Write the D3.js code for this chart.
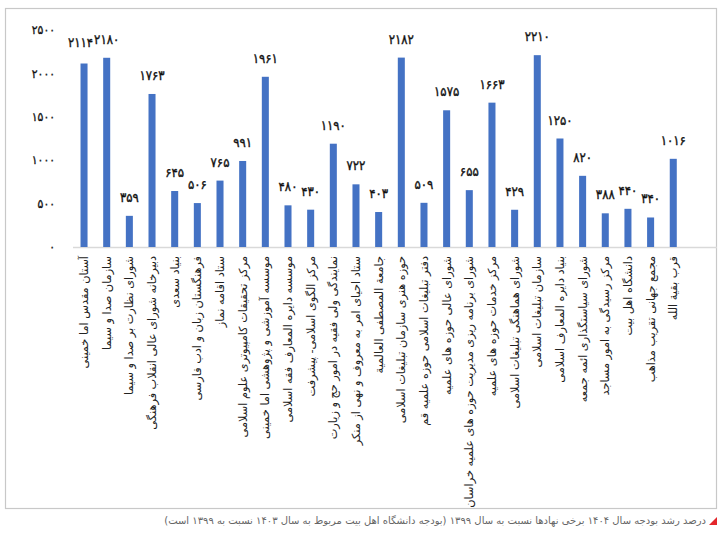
<!DOCTYPE html>
<html><head><meta charset="utf-8">
<script src="https://cdn.jsdelivr.net/npm/d3@7"></script>
<style>body{margin:0;background:#fff;}svg{display:block;}</style>
</head><body>
<script>
const categories = [
"آستان مقدس اما خمینی","سازمان صدا و سیما","شورای نظارت بر صدا و سیما","دبیرخانه شورای عالی انقلاب فرهنگی",
"بنیاد سعدی","فرهنگستان زبان و ادب فارسی","ستاد اقامه نماز","مرکز تحقیقات کامپیوتری علوم اسلامی",
"موسسه آموزشی و پژوهشی اما خمینی","موسسه دایره المعارف فقه اسلامی","مرکز الگوی اسلامی- پیشرفت",
"نمایندگی ولی فقیه در امور حج و زیارت","ستاد احیای امر به معروف و نهی از منکر","جامعة المصطفی العالمیة",
"حوزه هنری سازمان تبلیغات اسلامی","دفتر تبلیغات اسلامی حوزه علمیه قم","شورای عالی حوزه های علمیه",
"شورای برنامه ریزی مدیریت حوزه های علمیه خراسان","مرکز خدمات حوزه های علمیه","شورای هماهنگی تبلیغات اسلامی",
"سازمان تبلیغات اسلامی","بنیاد دایره المعارف اسلامی","شورای سیاستگذاری ائمه جمعه","مرکز رسیدگی به امور مساجد",
"دانشگاه اهل بیت","مجمع جهانی تقریب مذاهب","قرب بقیة الله"];
const values = [2114,2180,359,1763,645,506,765,991,1961,480,430,1190,722,403,2182,509,1575,655,1663,429,2210,1250,820,388,440,340,1016];
const yTicks = [0,500,1000,1500,2000,2500];
const caption = "درصد رشد بودجه سال ۱۴۰۴ برخی نهادها نسبت به سال ۱۳۹۹ (بودجه دانشگاه اهل بیت مربوط به سال ۱۴۰۳ نسبت به ۱۳۹۹ است)";

const fa = n => String(n).replace(/\d/g, d => "۰۱۲۳۴۵۶۷۸۹"[d]);
const W = 727, H = 533;
const svg = d3.select("body").append("svg").attr("width", W).attr("height", H);
const font = "'DejaVu Sans', sans-serif";
const numFont = "'DejaVu Sans Condensed', 'DejaVu Sans', sans-serif";

svg.append("rect").attr("x",5.5).attr("y",8.5).attr("width",711).attr("height",500)
  .attr("fill","none").attr("stroke","#c8c8c8").attr("stroke-width",1.2);

const x = d3.scaleBand().domain(categories).range([72.7, 684.6]).paddingInner(0.69).paddingOuter(0.345);
const y = d3.scaleLinear().domain([0,2500]).range([247, 30]);

svg.append("g").selectAll("text").data(yTicks).join("text")
  .attr("x", 55).attr("y", d => y(d)).attr("dy","0.35em")
  .attr("text-anchor","end").attr("font-family",numFont).attr("font-size",12)
  .attr("fill","#111").attr("stroke","#111").attr("stroke-width",0.3).text(d => fa(d));

svg.append("line").attr("x1",73).attr("x2",717).attr("y1",247.5).attr("y2",247.5)
  .attr("stroke","#d9d9d9").attr("stroke-width",1.5);

svg.append("g").selectAll("rect").data(values).join("rect")
  .attr("x",(d,i)=>x(categories[i])).attr("width",x.bandwidth())
  .attr("y",d=>y(d)).attr("height",d=>y(0)-y(d)).attr("fill","#4472C4");

const labels = svg.append("g").selectAll("text").data(values).join("text")
  .attr("x",(d,i)=>x(categories[i])+x.bandwidth()/2).attr("y",d=>y(d)-14)
  .attr("text-anchor","middle").attr("font-family",numFont).attr("font-size",13)
  .attr("fill","#111").attr("stroke","#111").attr("stroke-width",0.35).text(d=>fa(d));

// simple collision avoidance: shift a label left/up if it overlaps its right neighbour
const nodes = labels.nodes();
for (let i = nodes.length - 2; i >= 0; i--) {
  const a = nodes[i].getBBox(), b = nodes[i+1].getBBox();
  const vOverlap = a.y < b.y + b.height && b.y < a.y + a.height;
  const ov = a.x + a.width - b.x;
  if (vOverlap && ov > 1) {
    const cx = +nodes[i].getAttribute("x");
    nodes[i].setAttribute("x", cx - ov - 1);
    nodes[i].setAttribute("y", +nodes[i].getAttribute("y") - 3);
  }
}

svg.append("g").selectAll("text").data(categories).join("text")
  .attr("transform",(d)=>`translate(${x(d)+x.bandwidth()/2},256) rotate(-90)`)
  .attr("text-anchor","end").attr("dy","0.35em").attr("font-family",font).attr("font-size",11.3)
  .attr("fill","#222").text(d=>d);

svg.append("text").attr("x",706).attr("y",524).attr("text-anchor","end")
  .attr("font-family",font).attr("font-size",10).attr("fill","#666").text(caption);
svg.append("path").attr("d","M709,525 L717,525 L717,517 Z").attr("fill","#e3262b");
</script>
</body></html>
